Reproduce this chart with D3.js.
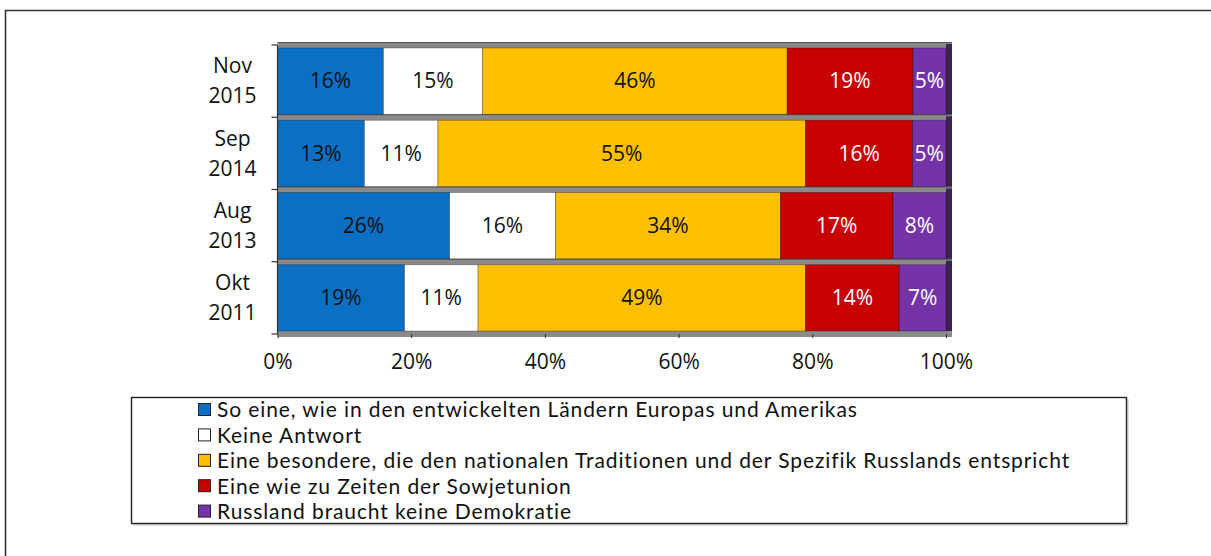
<!DOCTYPE html>
<html lang="de">
<head>
<meta charset="utf-8">
<style>
  body { margin: 0; background: #fff; }
  text { font-family: "Open Sans", sans-serif; }
  .tick text { font-size: 21px; fill: #111; }
  .legtext { font-family: Lato, "Open Sans", sans-serif; }
</style>
<script src="https://cdn.jsdelivr.net/npm/d3@7"></script>
</head>
<body>
<div id="chart"></div>
<script>
// --- data ---
var categories = ["Nov 2015", "Sep 2014", "Aug 2013", "Okt 2011"];
var seriesNames = [
  "So eine, wie in den entwickelten Ländern Europas und Amerikas",
  "Keine Antwort",
  "Eine besondere, die den nationalen Traditionen und der Spezifik Russlands entspricht",
  "Eine wie zu Zeiten der Sowjetunion",
  "Russland braucht keine Demokratie"
];
var westlich   = [16, 13, 26, 19];
var keineAntw  = [15, 11, 16, 11];
var besondere  = [46, 55, 34, 49];
var sowjet     = [19, 16, 17, 14];
var keineDemo  = [5, 5, 8, 7];
var xTicks = [0, 0.2, 0.4, 0.6, 0.8, 1];

var colors = ["#0b6fc4", "#ffffff", "#ffc000", "#c80000", "#7434a8"];
var textColors = ["#111", "#111", "#111", "#fff", "#fff"];

var W = 1211, H = 556;
var svg = d3.select("#chart").append("svg")
    .attr("width", W).attr("height", H);

// outer frame (open right/bottom, cropped)
svg.append("path")
    .attr("d", "M5.5,556V10.5H1211")
    .attr("fill", "none").attr("stroke", "#333").attr("stroke-width", 1.6);

var allSeries = [westlich, keineAntw, besondere, sowjet, keineDemo];
var rows = categories.map(function(c, i) {
  var r = { cat: c };
  allSeries.forEach(function(s, k) { r["s" + k] = s[i]; });
  return r;
});
var keys = seriesNames.map(function(d, k) { return "s" + k; });
var stacked = d3.stack().keys(keys).offset(d3.stackOffsetExpand)(rows);

var x = d3.scaleLinear().domain([0, 1]).range([277.5, 946]);
var y = d3.scaleBand().domain(categories).range([45, 334]).padding(0);
var bw = y.bandwidth();
var depth = 6, lip = 3;

// 3D shadow / top faces
var g = svg.append("g");
g.selectAll("rect.shadow").data(categories).enter().append("rect")
    .attr("class", "shadow")
    .attr("x", x(0)).attr("y", function(d) { return y(d) - lip; })
    .attr("width", x(1) - x(0) + depth).attr("height", bw + 2 * lip)
    .attr("fill", "#8a8a8a");
g.selectAll("line.topedge").data(categories).enter().append("line")
    .attr("class", "topedge")
    .attr("x1", x(0)).attr("x2", x(1) + depth)
    .attr("y1", function(d) { return y(d) - lip + 0.5; })
    .attr("y2", function(d) { return y(d) - lip + 0.5; })
    .attr("stroke", "#555").attr("stroke-width", 1);
// side face
g.selectAll("rect.side").data(categories).enter().append("rect")
    .attr("class", "side")
    .attr("x", x(1)).attr("y", function(d) { return y(d) - 1; })
    .attr("width", depth).attr("height", bw - lip + 1)
    .attr("fill", "#3b2350");

var layer = g.selectAll("g.layer").data(stacked).enter().append("g")
    .attr("class", "layer");
layer.selectAll("rect").data(function(d) { return d.map(function(p) { return { p: p, k: d.index }; }); })
  .enter().append("rect")
    .attr("x", function(d) { return x(d.p[0]); })
    .attr("y", function(d) { return y(d.p.data.cat) + lip; })
    .attr("width", function(d) { return x(d.p[1]) - x(d.p[0]); })
    .attr("height", bw - 2 * lip)
    .attr("fill", function(d) { return colors[d.k]; })
    .attr("stroke", "rgba(0,0,0,0.35)").attr("stroke-width", 0.8);
layer.selectAll("text").data(function(d) { return d.map(function(p) { return { p: p, k: d.index, key: d.key }; }); })
  .enter().append("text")
    .attr("x", function(d) { return (x(d.p[0]) + x(d.p[1])) / 2; })
    .attr("y", function(d) { return y(d.p.data.cat) + bw / 2; })
    .attr("dy", "0.35em")
    .attr("text-anchor", "middle")
    .attr("font-size", 21)
    .attr("fill", function(d) { return textColors[d.k]; })
    .text(function(d) { return d.p.data[d.key] + "%"; });

// y axis
var yAxis = svg.append("g").attr("transform", "translate(" + x(0) + ",0)");
yAxis.append("line").attr("y1", 45).attr("y2", 334).attr("stroke", "#333").attr("stroke-width", 1.2);
var yTickPos = categories.map(function(c) { return y(c); }).concat([334]);
yAxis.selectAll("line.t").data(yTickPos).enter().append("line")
    .attr("class", "t").attr("x1", -6).attr("x2", 0)
    .attr("y1", function(d) { return d; }).attr("y2", function(d) { return d; })
    .attr("stroke", "#333").attr("stroke-width", 1.2);
var catLbl = yAxis.selectAll("text.cat").data(categories).enter().append("text")
    .attr("class", "cat")
    .attr("text-anchor", "middle")
    .attr("font-size", 21)
    .attr("fill", "#111");
catLbl.append("tspan").attr("x", -45)
    .attr("y", function(d) { return y(d) + bw / 2 - 15; }).attr("dy", "0.35em")
    .text(function(d) { return d.split(" ")[0]; });
catLbl.append("tspan").attr("x", -45)
    .attr("y", function(d) { return y(d) + bw / 2 + 15; }).attr("dy", "0.35em")
    .text(function(d) { return d.split(" ")[1]; });

// x axis
var xAxis = svg.append("g").attr("transform", "translate(0,334)")
    .call(d3.axisBottom(x).tickValues(xTicks).tickFormat(d3.format(".0%")).tickSize(4).tickPadding(16));
xAxis.select(".domain").remove();
xAxis.selectAll(".tick line").attr("stroke", "#333");

// legend
var leg = svg.append("g");
leg.append("rect").attr("x", 133).attr("y", 399).attr("width", 996).attr("height", 127)
    .attr("fill", "#ddd");
leg.append("rect").attr("x", 131.5).attr("y", 397.5).attr("width", 995).attr("height", 126)
    .attr("fill", "#fff").attr("stroke", "#222").attr("stroke-width", 1.4);
var item = leg.selectAll("g.item").data(seriesNames).enter().append("g")
    .attr("transform", function(d, i) { return "translate(198," + (410 + i * 25.4) + ")"; });
item.append("rect").attr("x", 0.5).attr("y", -6.5).attr("width", 12).attr("height", 12)
    .attr("fill", function(d, i) { return colors[i]; })
    .attr("stroke", "#222").attr("stroke-width", 1);
item.append("text").attr("class", "legtext").attr("x", 19).attr("dy", "0.35em")
    .attr("font-size", 21).attr("letter-spacing", 0.9).attr("fill", "#111")
    .text(function(d) { return d; });
</script>
</body>
</html>
